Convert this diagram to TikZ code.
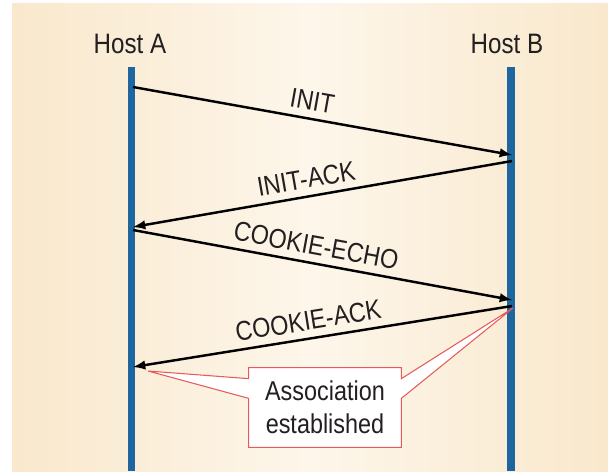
\documentclass[tikz,border=0pt]{standalone}
\usepackage{fontspec}
\setmainfont{Liberation Sans}[FakeStretch=0.86]
\usepackage{tikz}

\definecolor{bgside}{RGB}{249,232,204}
\definecolor{bgmid}{RGB}{253,246,234}
\definecolor{hostblue}{RGB}{30,102,160}
\definecolor{calloutred}{RGB}{232,90,90}
\definecolor{inkgray}{RGB}{35,31,32}

\tikzset{
  hostline/.style={draw=hostblue, line width=4pt},
  msg/.style={->, draw=black, line width=1.4pt},
  msglabel/.style={sloped, above=4pt, font=\fontsize{15.5}{17}\selectfont, text=inkgray, inner sep=0pt},
}

\begin{document}
\begin{tikzpicture}[>=latex, x=0.02cm, y=-0.02cm]
  \useasboundingbox (0,0) rectangle (608,471);
  \shade [left color=bgside, right color=bgside, middle color=bgmid] (12,3) rectangle (608,471);

  \node (hA) at (130,44) [text=inkgray, font=\fontsize{16}{18}\selectfont] {Host A} ;
  \node (hB) at (507,44) [text=inkgray, font=\fontsize{16}{18}\selectfont] {Host B} ;

  \draw [hostline] (131.5,67) -- (131.5,471);
  \draw [hostline] (511,67) -- (511,471);

  \coordinate (a1) at (133,87);
  \coordinate (b1) at (512,155);
  \coordinate (b2) at (512,161);
  \coordinate (a2) at (133,227);
  \coordinate (a3) at (133,230);
  \coordinate (b3) at (512,300);
  \coordinate (b4) at (512,306);
  \coordinate (a4) at (133,367);

  \draw [msg] (a1) -- (b1) node [msglabel, pos=0.465] {INIT};
  \draw [msg] (b2) -- (a2) node [msglabel, pos=0.535] {INIT-ACK};
  \draw [msg] (a3) -- (b3) node [msglabel, pos=0.475] {COOKIE-ECHO};
  \draw [msg] (b4) -- (a4) node [msglabel, pos=0.53] {COOKIE-ACK};

  \node (est) at (325,407.5) [minimum width=3.04cm, minimum height=1.58cm, align=center,
    text=inkgray, font=\fontsize{15.5}{19}\selectfont] {Association\\established} ;
  \coordinate (tipA) at (148,371);
  \coordinate (tipB) at (513,308);
  \filldraw [fill=white, draw=calloutred, line width=0.6pt, line join=miter]
    (est.north west) -- (est.north east) -- ([yshift=-0.22cm]est.north east) -- (tipB)
    -- ([yshift=0.98cm]est.south east) -- (est.south east) -- (est.south west)
    -- ([yshift=0.98cm]est.south west) -- (tipA) -- ([yshift=-0.22cm]est.north west) -- cycle;
  \node at (est) [align=center, text=inkgray, font=\fontsize{15.5}{19}\selectfont] {Association\\established} ;
\end{tikzpicture}
\end{document}
